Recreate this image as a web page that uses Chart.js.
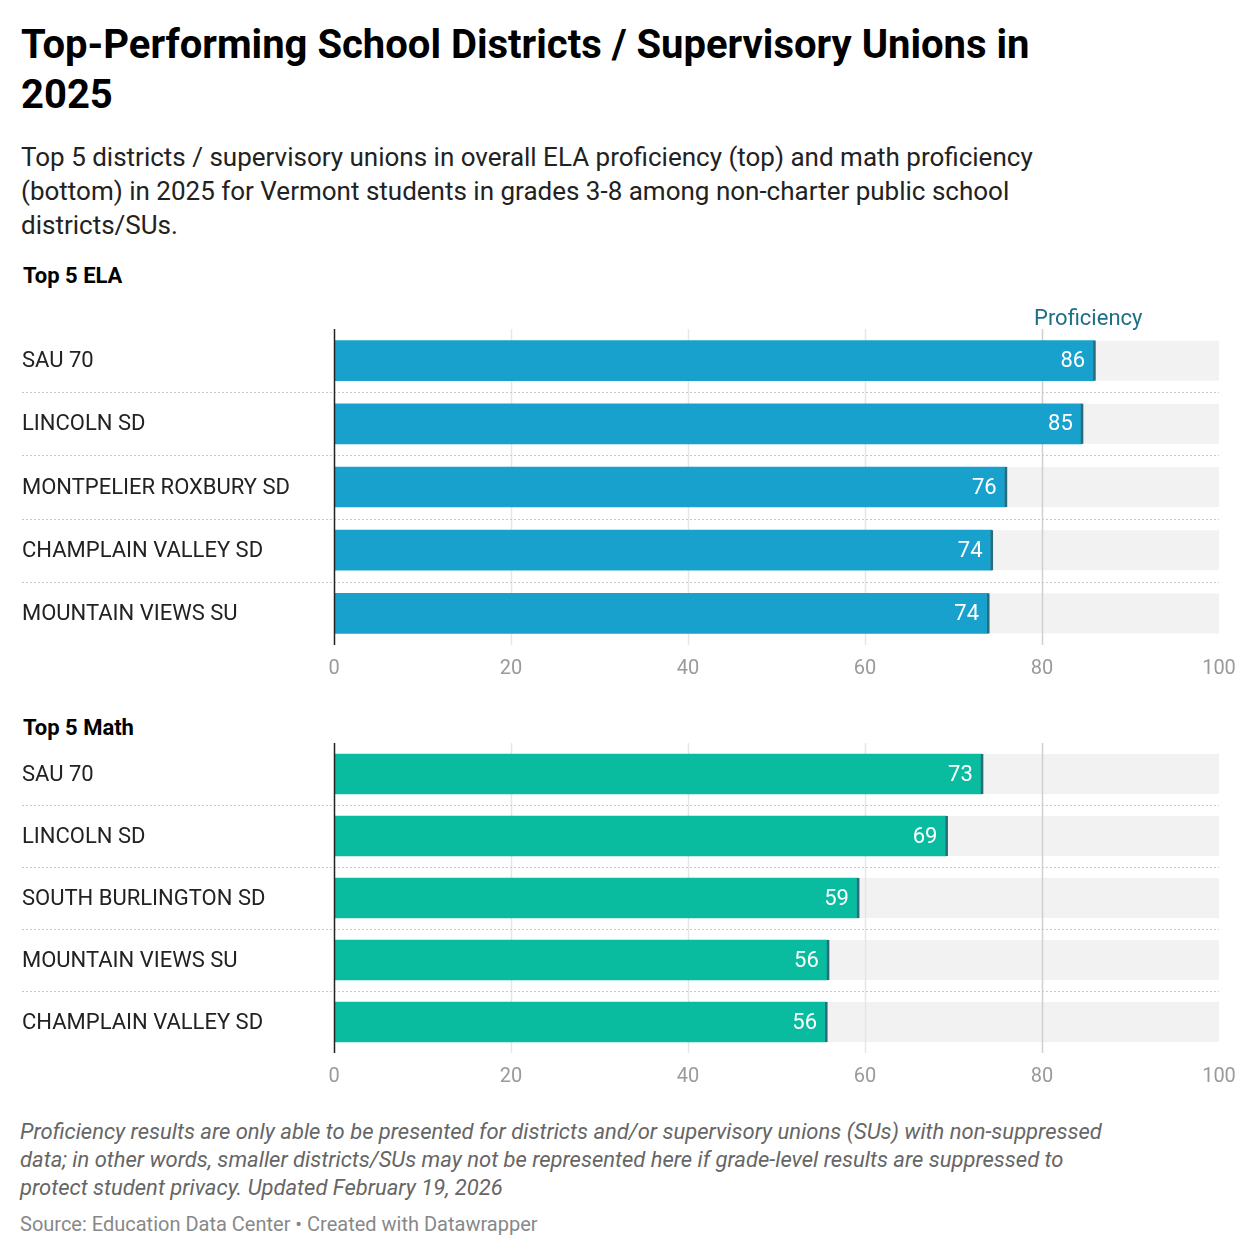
<!DOCTYPE html>
<html><head><meta charset="utf-8">
<script src="https://cdn.jsdelivr.net/npm/chart.js@4"></script>
<style>
body{margin:0;width:1240px;height:1258px;background:#fff;font-family:Roboto,sans-serif;position:relative;overflow:hidden}
.t{position:absolute;left:21px;white-space:nowrap}
</style></head><body>
<div class="t" style="top:20px;font-size:40px;font-weight:bold;line-height:50px;color:#000">Top-Performing School Districts / Supervisory Unions in<br>2025</div>
<div class="t" style="top:140px;font-size:26px;line-height:34px;color:#222">Top 5 districts / supervisory unions in overall ELA proficiency (top) and math proficiency<br>(bottom) in 2025 for Vermont students in grades 3-8 among non-charter public school<br>districts/SUs.</div>
<div class="t" style="top:263px;left:23px;font-size:22px;font-weight:bold">Top 5 ELA</div>
<div class="t" style="top:715px;left:23px;font-size:22px;font-weight:bold">Top 5 Math</div>
<div class="t" style="top:1118px;left:20px;font-size:22px;line-height:28px;font-style:italic;color:#666">Proficiency results are only able to be presented for districts and/or supervisory unions (SUs) with non-suppressed<br>data; in other words, smaller districts/SUs may not be represented here if grade-level results are suppressed to<br>protect student privacy. Updated February 19, 2026</div>
<div class="t" style="top:1212px;left:20px;font-size:20px;color:#888">Source: Education Data Center • Created with Datawrapper</div>
<div style="position:absolute;left:0;top:300px;width:1240px;height:385px"><canvas id="c1"></canvas></div>
<div style="position:absolute;left:0;top:743px;width:1240px;height:350px"><canvas id="c2"></canvas></div>
<script>
const elaCategories=["SAU 70","LINCOLN SD","MONTPELIER ROXBURY SD","CHAMPLAIN VALLEY SD","MOUNTAIN VIEWS SU"];
const elaValues=[85.9,84.5,75.9,74.3,73.9];
const mathCategories=["SAU 70","LINCOLN SD","SOUTH BURLINGTON SD","MOUNTAIN VIEWS SU","CHAMPLAIN VALLEY SD"];
const mathValues=[73.2,69.2,59.2,55.8,55.6];
const xTicks=[0,20,40,60,80,100];

function make(id,cats,vals,color,padTop,showHead){
  const plug={id:'deco',
    beforeDatasetsDraw(ch){
      const c=ch.ctx,x=ch.scales.x,y=ch.scales.y,a=ch.chartArea;
      c.save();
      cats.forEach((k,i)=>{const yc=y.getPixelForValue(i);
        c.fillStyle='#f2f2f2';c.fillRect(x.getPixelForValue(0),yc-20,x.getPixelForValue(100)-x.getPixelForValue(0),40);});
      xTicks.slice(1,5).forEach(v=>{const px=Math.round(x.getPixelForValue(v))+0.5;
        c.strokeStyle=v==80?'#d0d0d0':'#e6e6e6';c.lineWidth=1.5;c.beginPath();c.moveTo(px,a.top);c.lineTo(px,a.bottom);c.stroke();});
      c.setLineDash([2,2]);c.strokeStyle='#c8c8c8';c.lineWidth=1;
      for(let i=0;i<cats.length-1;i++){const yy=Math.round((y.getPixelForValue(i)+y.getPixelForValue(i+1))/2)+0.5;
        c.beginPath();c.moveTo(22,yy);c.lineTo(x.getPixelForValue(100),yy);c.stroke();}
      c.setLineDash([]);
      c.fillStyle='#222';c.font='22px Roboto';c.textAlign='left';c.textBaseline='middle';
      cats.forEach((k,i)=>c.fillText(k,22,y.getPixelForValue(i)+1));
      if(showHead){c.fillStyle='#1d6f88';c.font='22px Roboto';c.textAlign='left';c.fillText('Proficiency',1034,a.top-10);}
      c.restore();
    },
    afterDatasetsDraw(ch){
      const c=ch.ctx,x=ch.scales.x,y=ch.scales.y,a=ch.chartArea;
      c.save();
      vals.forEach((v,i)=>{const px=x.getPixelForValue(v),yc=y.getPixelForValue(i);
        c.fillStyle='#2e6b78';c.fillRect(px-1,yc-20,2.5,40);
        c.fillStyle='#fff';c.font='22px Roboto';c.textAlign='right';c.textBaseline='middle';
        c.fillText(String(Math.round(v)),px-9,yc+1);});
      c.strokeStyle='#222';c.lineWidth=1.5;c.beginPath();const x0=Math.round(x.getPixelForValue(0))+0.5;
      c.moveTo(x0,a.top);c.lineTo(x0,a.bottom);c.stroke();
      c.restore();
    }};
  new Chart(document.getElementById(id),{type:'bar',
    data:{labels:cats,datasets:[{data:vals,backgroundColor:color,barThickness:40}]},
    options:{indexAxis:'y',responsive:true,maintainAspectRatio:false,animation:false,
      layout:{padding:{top:padTop,right:21,left:0,bottom:0}},
      plugins:{legend:{display:false},tooltip:{enabled:false}},
      scales:{
        x:{min:0,max:100,grid:{display:false},border:{display:false},
          ticks:{stepSize:20,color:'#9a9a9a',font:{family:'Roboto',size:20},padding:4}},
        y:{grid:{display:false},border:{display:false},ticks:{display:false},
          afterFit(s){s.width=334;}}
      }},
    plugins:[plug]});
}
make('c1',elaCategories,elaValues,'#18a1cd',29,true);
make('c2',mathCategories,mathValues,'#09bb9f',0,false);
</script>
</body></html>
